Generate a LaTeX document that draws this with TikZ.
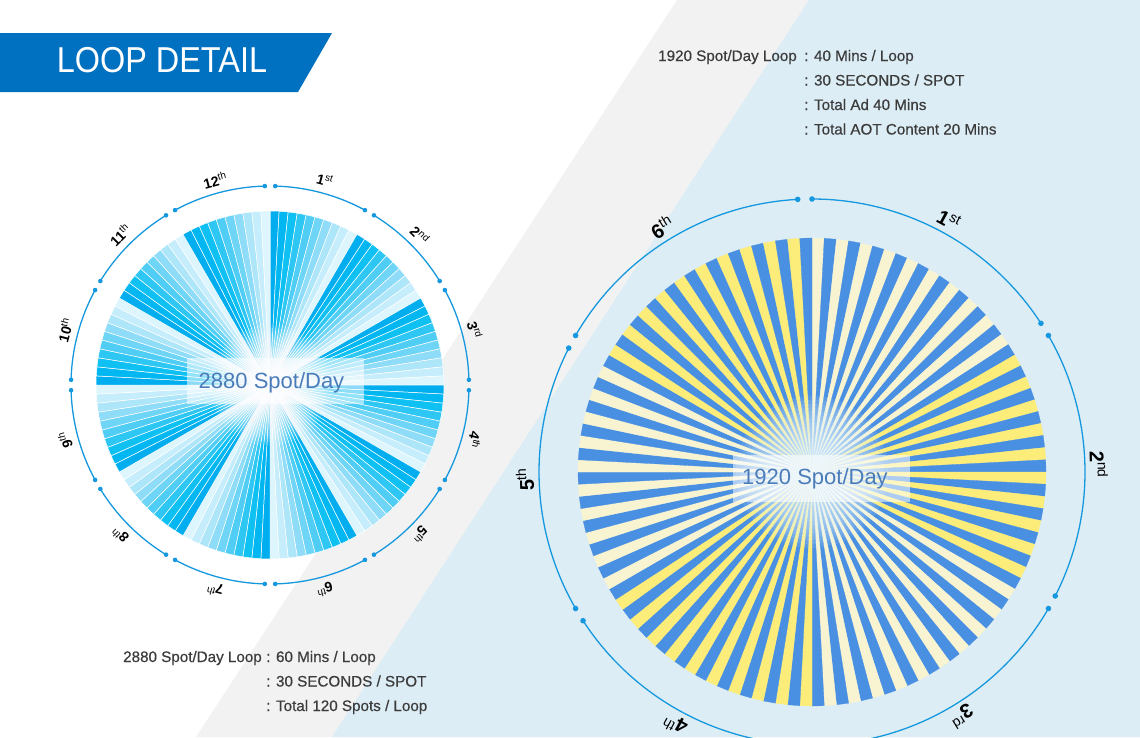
\documentclass[tikz,border=0pt]{standalone}
\usepackage{fontspec}
\setmainfont{Liberation Sans}
\newfontfamily\medfont[FakeBold=0.45]{Liberation Sans}
\definecolor{hdr}{RGB}{0,112,192}
\definecolor{bggray}{RGB}{242,242,242}
\definecolor{bgblue}{RGB}{220,237,245}
\definecolor{ringc}{RGB}{22,152,222}
\definecolor{txt}{RGB}{60,60,60}
\definecolor{ctr}{RGB}{74,124,186}
\definecolor{sblue}{RGB}{74,144,226}
\definecolor{syel}{RGB}{252,236,122}
\definecolor{scream}{RGB}{248,244,210}
\definecolor{glowc}{RGB}{232,249,255}
\definecolor{lb0}{HTML}{00AEEF}
\definecolor{lb1}{HTML}{00B7F1}
\definecolor{lb2}{HTML}{0FC0F3}
\definecolor{lb3}{HTML}{2EC7F4}
\definecolor{lb4}{HTML}{4FCDF5}
\definecolor{lb5}{HTML}{6FD5F6}
\definecolor{lb6}{HTML}{8EDCF8}
\definecolor{lb7}{HTML}{ADE5F9}
\definecolor{lb8}{HTML}{C6EDFB}
\definecolor{lb9}{HTML}{DDF5FD}
\tikzset{
  ringline/.style={draw=ringc, line width=1.3pt},
  lablL/.style={font=\fontsize{14}{16}\selectfont, text=black, inner sep=0pt},
  lablR/.style={font=\fontsize{20}{22}\selectfont, text=black, inner sep=0pt},
  infotext/.style={font=\medfont\fontsize{15.2}{18}\selectfont, text=txt, inner sep=0pt, anchor=base west},
  centertext/.style={font=\fontsize{22}{24}\selectfont, text=ctr, inner sep=0pt, anchor=base},
  centerbox/.style={fill=white, fill opacity=0.55, draw=none}
}
\begin{document}
\begin{tikzpicture}[x=1pt,y=1pt]
\useasboundingbox (0,0) rectangle (1140,-737);
\clip (0,0) rectangle (1140,-737);
% background
\fill[white] (0,0) rectangle (1140,-737);
\fill[bggray] (677,0) -- (1140,0) -- (1140,-737) -- (196,-737) -- cycle;
\fill[bgblue] (809,0) -- (1140,0) -- (1140,-737) -- (332,-737) -- cycle;
% header
\fill[hdr] (0,-33) -- (332,-33) -- (298,-92) -- (0,-92) -- cycle;
\node[text=white, font=\fontsize{36}{40}\selectfont, inner sep=0pt, anchor=base] (title) at (162,-72.3) {\scalebox{0.9}[1]{LOOP DETAIL}};

% ---------- left circle ----------
\coordinate (L) at (270,-385);
\begin{scope}[shift={(L)}]
  \foreach \k in {0,...,119}{
    \pgfmathtruncatemacro\ci{mod(\k,10)}
    \pgfmathsetmacro\aA{90-3*\k}
    \pgfmathsetmacro\aB{87-3*\k}
    \filldraw[fill=lb\ci, draw=white, line width=0.5pt] (0,0) -- (\aA:174) -- (\aB:174) -- cycle;
  }
  \foreach \i in {1,...,20}{
    \fill[white, opacity=0.1] (0,0) circle ({\i*3});
  }
  \foreach \s/\num/\suf in {0/1/st,1/2/nd,2/3/rd,3/4/th,4/5/th,5/6/th,6/7/th,7/8/th,8/9/th,9/10/th,10/11/th,11/12/th}{
    \pgfmathsetmacro\angA{88.5-30*\s}
    \pgfmathsetmacro\angB{61.5-30*\s}
    \pgfmathsetmacro\angM{75-30*\s}
    \draw[ringline] (\angA:199) arc[start angle=\angA, end angle=\angB, radius=199];
    \fill[ringc] (\angA:199) circle (2.3) (\angB:199) circle (2.3);
    \node[lablL, rotate=\angM-90] (Ll\num) at (\angM:212) {\textbf{\num}\textsuperscript{\suf}};
  }
\end{scope}
\fill[centerbox] (187,-358) rectangle (364,-404);
\node[centertext] (lefttitle) at (271.5,-388) {2880 Spot/Day};

% ---------- right circle ----------
\coordinate (R) at (812,-472);
\begin{scope}[shift={(R)}]
  \foreach \k in {0,...,119}{
    \pgfmathtruncatemacro\seg{mod(floor(\k/20),2)}
    \pgfmathtruncatemacro\odd{mod(\k,2)}
    \ifnum\odd=1 \def\stripcol{sblue}\else\ifnum\seg=0 \def\stripcol{scream}\else\def\stripcol{syel}\fi\fi
    \pgfmathsetmacro\aA{90-3*\k}
    \pgfmathsetmacro\aB{87-3*\k}
    \filldraw[fill=\stripcol, draw=\stripcol, line width=0.3pt] (0,0) -- (\aA:234) -- (\aB:234) -- cycle;
  }
  \foreach \i in {1,...,20}{
    \fill[glowc, opacity=0.1] (0,0) circle ({\i*3.8});
  }
  \foreach \s/\num/\suf in {0/1/st,1/2/nd,2/3/rd,3/4/th,4/5/th,5/6/th}{
    \pgfmathsetmacro\angA{90-60*\s}
    \pgfmathsetmacro\angB{33-60*\s}
    \pgfmathsetmacro\angM{61.5-60*\s}
    \draw[ringline] (\angA:273) arc[start angle=\angA, end angle=\angB, radius=273];
    \fill[ringc] (\angA:273) circle (2.8) (\angB:273) circle (2.8);
    \node[lablR, rotate=\angM-90] (Rl\num) at (\angM:287) {\textbf{\num}\textsuperscript{\suf}};
  }
\end{scope}
\fill[centerbox] (733,-455) rectangle (910,-502);
\node[centertext] (righttitle) at (815,-484) {1920 Spot/Day};

% ---------- info texts ----------
\node[infotext] (t1a) at (658,-61) {1920 Spot/Day Loop};
\node[infotext] (t1b) at (804,-61) {: 40 Mins / Loop};
\node[infotext] (t1c) at (804,-85.5) {: 30 SECONDS / SPOT};
\node[infotext] (t1d) at (804,-110) {: Total Ad 40 Mins};
\node[infotext] (t1e) at (804,-134.5) {: Total AOT Content 20 Mins};

\node[infotext] (t2a) at (123,-662) {2880 Spot/Day Loop};
\node[infotext] (t2b) at (266,-662) {: 60 Mins / Loop};
\node[infotext] (t2c) at (266,-686.5) {: 30 SECONDS / SPOT};
\node[infotext] (t2d) at (266,-711) {: Total 120 Spots / Loop};
\end{tikzpicture}
\end{document}
